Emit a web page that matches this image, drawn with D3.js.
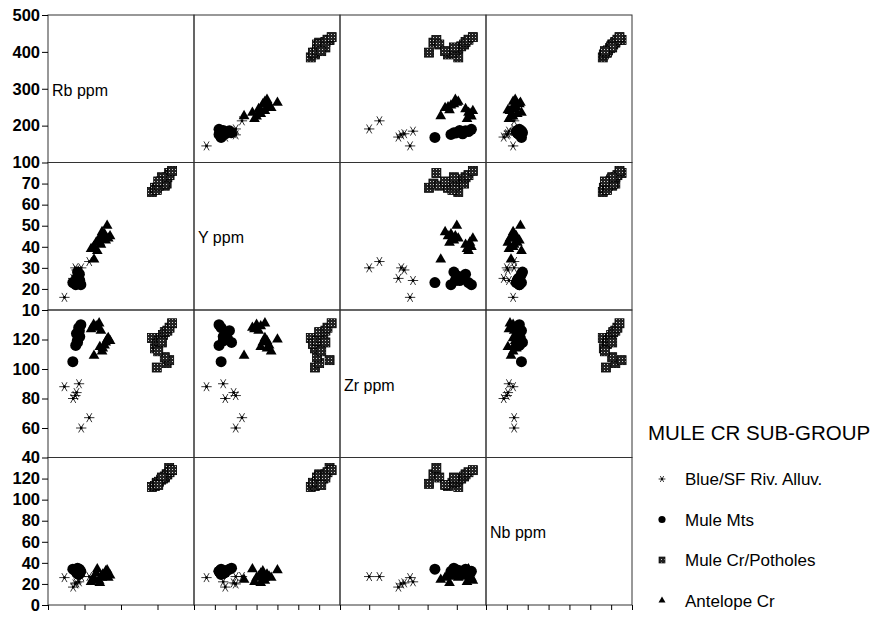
<!DOCTYPE html>
<html>
<head>
<meta charset="utf-8">
<script src="https://cdn.jsdelivr.net/npm/d3@7"></script>
<style>
  body { margin: 0; background: #fff; }
  text { font-family: "Liberation Sans", Arial, sans-serif; fill: #000; }
</style>
</head>
<body>
<script>
// variables shown on the matrix diagonal
const varLabels = ["Rb ppm", "Y ppm", "Zr ppm", "Nb ppm"]
const varDomains = [[100, 500], [10, 80], [40, 140], [0, 140]]
const leftTicks = [[100, 200, 300, 400, 500], [10, 20, 30, 40, 50, 60, 70], [40, 60, 80, 100, 120], [0, 20, 40, 60, 80, 100, 120]]
const bottomTicks = [[100, 200, 300, 400, 500], [10, 20, 30, 40, 50, 60, 70, 80], [40, 60, 80, 100, 120, 140], [0, 20, 40, 60, 80, 100, 120, 140]]

const groupNames = ["Blue/SF Riv. Alluv.", "Mule Mts", "Mule Cr/Potholes", "Antelope Cr"]

// samples: [Rb, Y, Zr, Nb]
const blueSF = [
  [145, 16, 88, 26], [185, 24, 90, 22], [169, 25, 80, 17], [175, 30, 82, 20],
  [178, 29, 84, 21], [213, 33, 67, 27], [191, 30, 60, 27]
]
const muleMts = [
  [168, 23, 105, 34], [176, 22, 116, 32], [180, 24, 119, 30], [183, 26, 121, 33],
  [178, 25, 124, 31], [186, 27, 126, 34], [184, 23, 128, 29], [190, 22, 130, 32],
  [181, 28, 118, 35], [187, 24, 122, 30]
]
const muleCr = [
  [398, 68, 101, 115], [425, 70, 104, 124], [432, 75, 106, 130], [420, 69, 108, 121],
  [385, 66, 121, 112], [393, 68, 114, 113], [398, 67, 117, 116], [404, 69, 119, 117],
  [410, 71, 121, 119], [415, 72, 123, 120], [420, 70, 125, 122], [427, 73, 126, 124],
  [433, 74, 128, 126], [440, 76, 131, 128], [412, 73, 118, 121], [402, 71, 112, 114]
]
const antelope = [
  [226, 34, 109, 24], [262, 50, 120, 33], [218, 39, 127, 22], [225, 40, 130, 26],
  [232, 42, 129, 30], [240, 44, 131, 23], [245, 41, 126, 27], [235, 38, 128, 34],
  [250, 45, 114, 29], [255, 46, 116, 27], [258, 43, 118, 32], [248, 47, 112, 26],
  [265, 44, 121, 26], [242, 42, 115, 21], [270, 45, 119, 28]
]
const groups = [blueSF, muleMts, muleCr, antelope]

let svgWidth = 875
let svgHeight = 618
let marginLeft = 48, marginTop = 15
let cellW = 146, cellH = 147.5
let n = varLabels.length

let svg = d3.select("body").append("svg").attr("width", svgWidth).attr("height", svgHeight)

// dotted fill for the squares
let pat = svg.append("defs").append("pattern")
  .attr("id", "dots").attr("patternUnits", "userSpaceOnUse")
  .attr("width", 3).attr("height", 3)
pat.append("rect").attr("width", 3).attr("height", 3).attr("fill", "#222")
pat.append("rect").attr("x", 1).attr("y", 1).attr("width", 1).attr("height", 1).attr("fill", "#d0d0d0")

let xs = varDomains.map((d, j) => d3.scaleLinear().domain(d).range([marginLeft + j * cellW, marginLeft + (j + 1) * cellW]))
let ys = varDomains.map((d, i) => d3.scaleLinear().domain(d).range([marginTop + (i + 1) * cellH, marginTop + i * cellH]))

// marker drawers
function drawMark(g, k, x, y, legend) {
  let s = legend ? 0.65 : 1
  if (k === 0) {
    g.append("path").attr("d", d3.symbol().type(d3.symbolAsterisk).size(75 * s * s)())
      .attr("transform", `translate(${x},${y}) rotate(90)`)
      .attr("stroke", "#000").attr("stroke-width", 0.8).attr("fill", "none")
    g.append("circle").attr("cx", x).attr("cy", y).attr("r", 1.4 * s).attr("fill", "#000")
  } else if (k === 1) {
    g.append("circle").attr("cx", x).attr("cy", y).attr("r", 5.5 * s).attr("fill", "#000")
  } else if (k === 2) {
    let h = 4.5 * s
    g.append("rect").attr("x", x - h).attr("y", y - h).attr("width", 2 * h).attr("height", 2 * h)
      .attr("fill", "url(#dots)").attr("stroke", "#000").attr("stroke-width", 0.8)
  } else {
    g.append("path").attr("d", d3.symbol().type(d3.symbolTriangle).size(50 * s * s)())
      .attr("transform", `translate(${x},${y})`).attr("fill", "#000")
  }
}

// cells
for (let i = 0; i < n; i++) {
  for (let j = 0; j < n; j++) {
    let cell = svg.append("g")
    cell.append("rect")
      .attr("x", marginLeft + j * cellW).attr("y", marginTop + i * cellH)
      .attr("width", cellW).attr("height", cellH)
      .attr("fill", "none").attr("stroke", "#333").attr("stroke-width", 1)

    if (i === j) {
      cell.append("text")
        .attr("x", marginLeft + j * cellW + 4).attr("y", marginTop + i * cellH + cellH / 2 + 7)
        .attr("font-size", 16).text(varLabels[i])
      continue
    }
    groups.forEach((grp, k) => {
      grp.forEach(d => drawMark(cell, k, xs[j](d[j]), ys[i](d[i]), false))
    })
  }
}

// left axes, one per row
for (let i = 0; i < n; i++) {
  let ax = svg.append("g").attr("transform", `translate(${marginLeft},0)`)
    .call(d3.axisLeft(ys[i]).tickValues(leftTicks[i]).tickSize(6).tickSizeOuter(0).tickPadding(2))
  ax.select(".domain").remove()
  ax.selectAll(".tick line").attr("stroke", "#000")
  ax.selectAll(".tick text").attr("font-size", 16.5).attr("font-weight", "bold")
    .attr("font-family", "'Liberation Sans', Arial, sans-serif")
}

// bottom tick marks, no labels
for (let j = 0; j < n; j++) {
  let ax = svg.append("g").attr("transform", `translate(0,${marginTop + n * cellH})`)
    .call(d3.axisBottom(xs[j]).tickValues(bottomTicks[j]).tickSize(5).tickSizeOuter(0).tickFormat(""))
  ax.select(".domain").remove()
  ax.selectAll(".tick line").attr("stroke", "#000")
}

// legend
let legend = svg.append("g")
legend.append("text").attr("x", 648).attr("y", 440).attr("font-size", 20.5).text("MULE CR SUB-GROUP")
groupNames.forEach((name, k) => {
  let by = 485 + k * 40.5
  drawMark(legend, k, 662, by - 6, true)
  legend.append("text").attr("x", 685).attr("y", by).attr("font-size", 17).text(name)
})
</script>
</body>
</html>
